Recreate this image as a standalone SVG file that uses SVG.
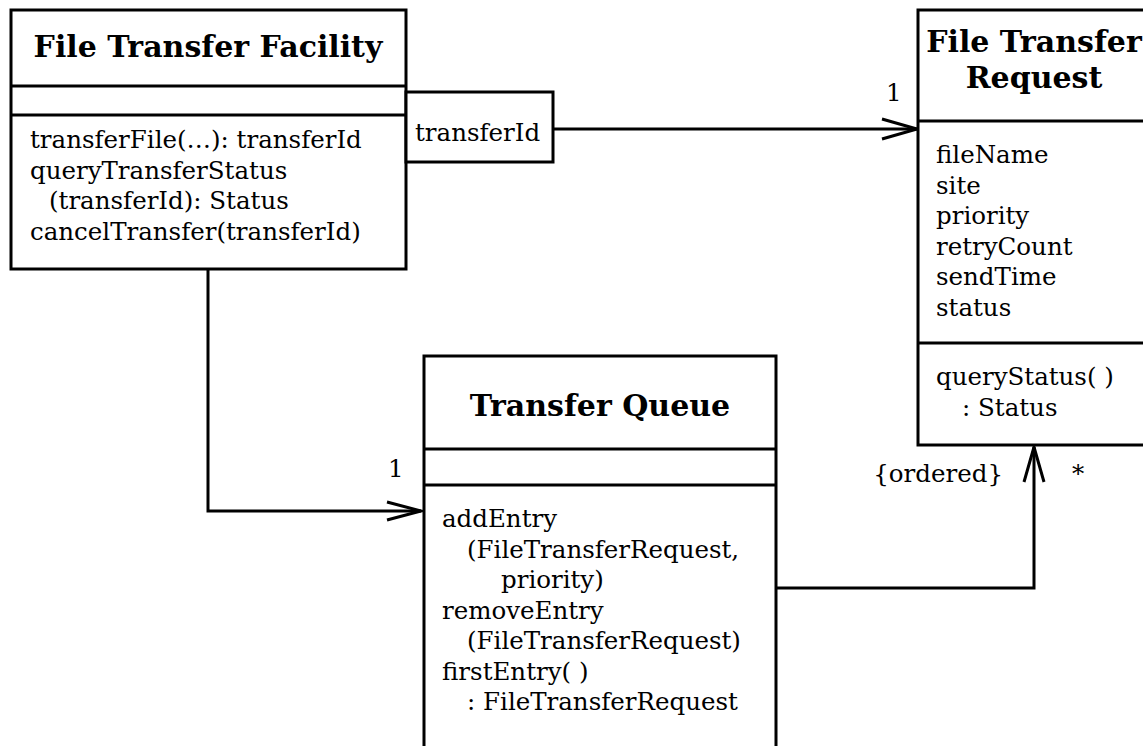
<svg xmlns="http://www.w3.org/2000/svg" width="1143" height="746" viewBox="0 0 1143 746">
  <defs>
    <style>
      .box { fill: #ffffff; stroke: #000000; stroke-width: 3; }
      .div { stroke: #000000; stroke-width: 3; }
      .wire { fill: none; stroke: #000000; stroke-width: 3; }
      .head { fill: none; stroke: #000000; stroke-width: 3; stroke-linejoin: miter; }
      .title { font-family: "DejaVu Serif", "Liberation Serif", serif; font-weight: bold; font-size: 30px; fill: #000000; text-anchor: middle; }
      .txt { font-family: "DejaVu Serif", "Liberation Serif", serif; font-size: 24.5px; fill: #000000; }
    </style>
  </defs>
  <rect x="0" y="0" width="1143" height="746" fill="#ffffff"/>

  <!-- associations -->
  <g id="connectors">
    <line class="wire" x1="553" y1="129" x2="917" y2="129"/>
    <polyline class="head" points="882,119 917,129 882,139"/>
    <polyline class="wire" points="208,269 208,511 421,511"/>
    <polyline class="head" points="387,502 421,511 387,520"/>
    <polyline class="wire" points="776,588 1034,588 1034,447"/>
    <polyline class="head" points="1024,482 1034,447 1044,482"/>
    <text class="txt" x="886" y="101">1</text>
    <text class="txt" x="388" y="477">1</text>
    <text class="txt" x="1003" y="482" text-anchor="end">{ordered}</text>
    <text class="txt" x="1072" y="482">*</text>
  </g>

  <!-- File Transfer Facility class -->
  <g id="file-transfer-facility">
    <rect class="box" x="11" y="10" width="395" height="259"/>
    <line class="div" x1="11" y1="86" x2="406" y2="86"/>
    <line class="div" x1="11" y1="115" x2="406" y2="115"/>
    <text class="title" x="208" y="57">File Transfer Facility</text>
    <text class="txt" x="30" y="148">transferFile(…): transferId</text>
    <text class="txt" x="30" y="178.5">queryTransferStatus</text>
    <text class="txt" x="49" y="209">(transferId): Status</text>
    <text class="txt" x="30" y="239.5">cancelTransfer(transferId)</text>
  </g>

  <!-- qualifier -->
  <g id="transfer-id-qualifier">
    <rect class="box" x="406" y="92" width="147" height="70"/>
    <text class="txt" x="415" y="141">transferId</text>
  </g>

  <!-- File Transfer Request class -->
  <g id="file-transfer-request">
    <rect class="box" x="918" y="10" width="234" height="435"/>
    <line class="div" x1="918" y1="121" x2="1152" y2="121"/>
    <line class="div" x1="918" y1="343" x2="1152" y2="343"/>
    <text class="title" x="1034" y="52">File Transfer</text>
    <text class="title" x="1034" y="88">Request</text>
    <text class="txt" x="936" y="163">fileName</text>
    <text class="txt" x="936" y="193.5">site</text>
    <text class="txt" x="936" y="224">priority</text>
    <text class="txt" x="936" y="254.5">retryCount</text>
    <text class="txt" x="936" y="285">sendTime</text>
    <text class="txt" x="936" y="315.5">status</text>
    <text class="txt" x="936" y="385">queryStatus( )</text>
    <text class="txt" x="962" y="415.5">: Status</text>
  </g>

  <!-- Transfer Queue class -->
  <g id="transfer-queue">
    <path class="box" d="M424,750 L424,356 L776,356 L776,750"/>
    <line class="div" x1="424" y1="449" x2="776" y2="449"/>
    <line class="div" x1="424" y1="485" x2="776" y2="485"/>
    <text class="title" x="600" y="416">Transfer Queue</text>
    <text class="txt" x="442" y="527">addEntry</text>
    <text class="txt" x="467" y="557.5">(FileTransferRequest,</text>
    <text class="txt" x="501" y="588">priority)</text>
    <text class="txt" x="442" y="618.5">removeEntry</text>
    <text class="txt" x="467" y="649">(FileTransferRequest)</text>
    <text class="txt" x="442" y="679.5">firstEntry( )</text>
    <text class="txt" x="467" y="710">: FileTransferRequest</text>
  </g>
</svg>
